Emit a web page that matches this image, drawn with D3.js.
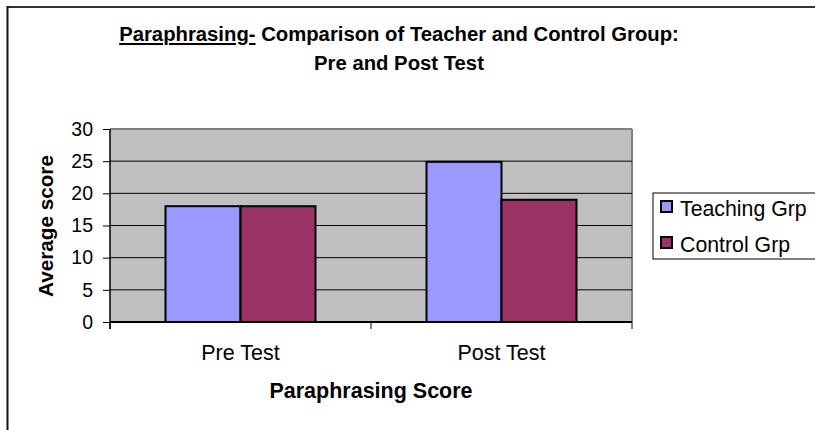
<!DOCTYPE html>
<html><head><meta charset="utf-8">
<script src="https://cdn.jsdelivr.net/npm/d3@7/dist/d3.min.js"></script>
<style>body{margin:0;background:#fff;} svg{display:block;font-family:"Liberation Sans",Arial,sans-serif;}</style>
</head><body>
<svg id="c" width="815" height="430"></svg>
<script>
const categories = ["Pre Test", "Post Test"];
const seriesNames = ["Teaching Grp", "Control Grp"];
const teachingValues = [18, 24.9];
const controlValues = [18, 19];
const yTicks = [0, 5, 10, 15, 20, 25, 30];
const colors = ["#9999FF", "#993366"];

const svg = d3.select("#c");
// outer frame
svg.append("line").attr("x1",7).attr("x2",815).attr("y1",7).attr("y2",7).attr("stroke","#333").attr("stroke-width",2);
svg.append("line").attr("x1",7.5).attr("x2",7.5).attr("y1",6).attr("y2",430).attr("stroke","#111").attr("stroke-width",2);

const L=110, R=632, T=129, B=322;
const x = d3.scaleBand().domain(categories).range([L,R]).paddingInner(0).paddingOuter(0);
const inner = d3.scaleBand().domain(seriesNames).range([0,150]);
const y = d3.scaleLinear().domain([0,30]).range([B,T]);

svg.append("rect").attr("x",L).attr("y",T).attr("width",R-L).attr("height",B-T).attr("fill","#C0C0C0");
svg.append("line").attr("x1",L).attr("x2",R).attr("y1",T).attr("y2",T).attr("stroke","#808080").attr("stroke-width",2);
svg.append("line").attr("x1",R).attr("x2",R).attr("y1",T).attr("y2",B).attr("stroke","#808080").attr("stroke-width",2);

// gridlines
svg.append("g").selectAll("line").data(yTicks.filter(d=>d>0&&d<30)).join("line")
  .attr("x1",L).attr("x2",R).attr("y1",d=>y(d)).attr("y2",d=>y(d)).attr("stroke","#000").attr("stroke-width",1);

const data = categories.map((c,i)=>({cat:c, vals:[teachingValues[i], controlValues[i]]}));
const g = svg.append("g");
data.forEach(d=>{
  const x0 = x(d.cat) + (x.bandwidth()-150)/2;
  seriesNames.forEach((s,j)=>{
    g.append("rect").attr("x",x0+inner(s)).attr("y",y(d.vals[j]))
     .attr("width",inner.bandwidth()).attr("height",y(0)-y(d.vals[j]))
     .attr("fill",colors[j]).attr("stroke","#000").attr("stroke-width",2);
  });
});

// y axis
const ya = svg.append("g").attr("transform",`translate(${L},0)`)
  .call(d3.axisLeft(y).tickValues(yTicks).tickSize(7).tickPadding(10));
ya.select(".domain").attr("stroke","#000").attr("stroke-width",1.5).attr("d",`M0,${T}V${B+7}`);
ya.selectAll(".tick line").attr("stroke","#000");
ya.selectAll("text").attr("font-size",19.5).attr("fill","#000").attr("font-family","Liberation Sans, Arial");

// x axis
const xa = svg.append("g").attr("transform",`translate(0,${B})`)
  .call(d3.axisBottom(x).tickSize(0).tickPadding(23));
xa.select(".domain").attr("stroke","#000").attr("stroke-width",2).attr("d",`M${L},0H${R}`);
xa.selectAll("text").attr("font-size",21.5).attr("fill","#000").attr("font-family","Liberation Sans, Arial");
svg.append("g").selectAll("line").data([L, x(categories[1]), R]).join("line")
  .attr("x1",d=>d).attr("x2",d=>d).attr("y1",B).attr("y2",B+7).attr("stroke","#000");

// titles
const t = svg.append("text").attr("x",399).attr("y",41).attr("text-anchor","middle")
  .attr("font-size",20.3).attr("font-weight","bold");
t.append("tspan").attr("text-decoration","underline").text("Paraphrasing-");
t.append("tspan").text(" Comparison of Teacher and Control Group:");
svg.append("text").attr("x",399).attr("y",70).attr("text-anchor","middle")
  .attr("font-size",20.3).attr("font-weight","bold").text("Pre and Post Test");

svg.append("text").attr("x",371).attr("y",398).attr("text-anchor","middle")
  .attr("font-size",21.5).attr("font-weight","bold").text("Paraphrasing Score");
svg.append("text").attr("transform","translate(53,226) rotate(-90)").attr("text-anchor","middle")
  .attr("font-size",20.7).attr("font-weight","bold").text("Average score");

// legend
svg.append("rect").attr("x",653).attr("y",193).attr("width",170).attr("height",66)
  .attr("fill","#fff").attr("stroke","#000").attr("stroke-width",1);
const lg = svg.append("g").selectAll("g").data(seriesNames).join("g")
  .attr("transform",(d,i)=>`translate(661,${201+i*36})`);
lg.append("rect").attr("width",11).attr("height",11).attr("fill",(d,i)=>colors[i]).attr("stroke","#000").attr("stroke-width",2);
lg.append("text").attr("x",19).attr("y",15).attr("font-size",21.3).text(d=>d);
</script>
</body></html>
